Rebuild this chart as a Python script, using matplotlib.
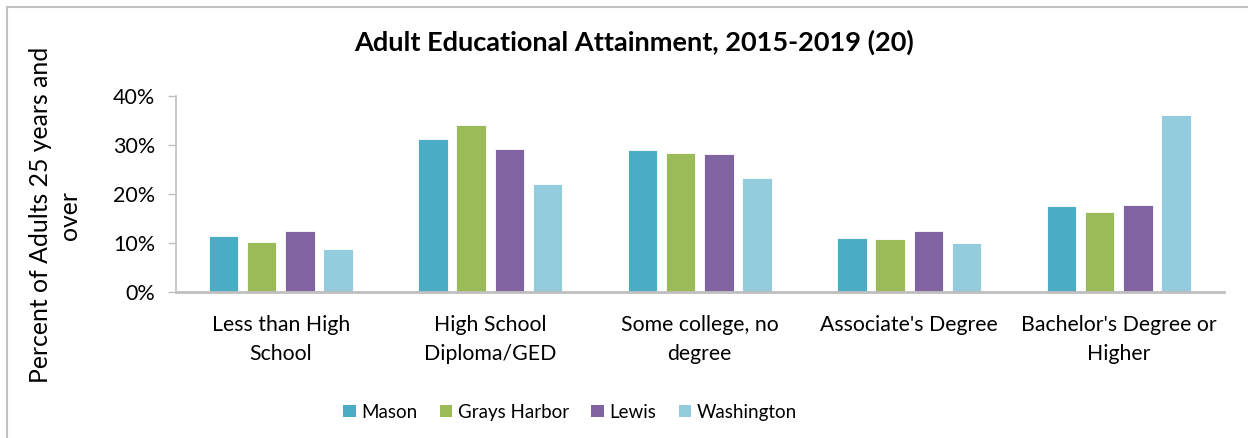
import numpy as np
import matplotlib
matplotlib.use("Agg")
import matplotlib.pyplot as plt
from matplotlib.patches import Rectangle, Patch

plt.rcParams["font.family"] = ["Lato", "DejaVu Sans"]

# Educational attainment shares (adults 25+), 2015-2019
categories = [
    "Less than High\nSchool",
    "High School\nDiploma/GED",
    "Some college, no\ndegree",
    "Associate's Degree",
    "Bachelor's Degree or\nHigher",
]
series_names = ["Mason", "Grays Harbor", "Lewis", "Washington"]
mason = [0.113, 0.311, 0.288, 0.109, 0.175]
grays_harbor = [0.102, 0.339, 0.282, 0.108, 0.163]
lewis = [0.124, 0.290, 0.281, 0.124, 0.176]
washington = [0.086, 0.219, 0.232, 0.099, 0.360]
y_ticks = [0.0, 0.1, 0.2, 0.3, 0.4]
y_tick_labels = ["0%", "10%", "20%", "30%", "40%"]

colors = ["#4BACC6", "#9BBB59", "#8064A2", "#93CDDD"]
values = [mason, grays_harbor, lewis, washington]

fig = plt.figure(figsize=(12.48, 4.39), dpi=100)
ax = fig.add_axes([176 / 1248, 1 - 292.5 / 439, 1047.5 / 1248, 196 / 439])

x = np.arange(len(categories))
step = 0.1814
width = 0.1408
for i, (name, vals, col) in enumerate(zip(series_names, values, colors)):
    ax.bar(x + (i - 1.5) * step, vals, width, color=col, label=name,
           edgecolor="white", linewidth=0.6, zorder=2)

ax.set_xlim(-0.5, len(categories) - 0.5)
ax.set_ylim(0, 0.40)
ax.set_yticks(y_ticks)
ax.set_yticklabels(y_tick_labels, fontsize=15.5)
ax.set_xticks(x)
ax.set_xticklabels(categories, fontsize=15.3, linespacing=1.55)
ax.tick_params(axis="x", length=0, pad=16)
ax.tick_params(axis="y", length=6, width=1, color="#bfbfbf", pad=9)

for side in ["top", "right"]:
    ax.spines[side].set_visible(False)
ax.spines["left"].set_color("#bfbfbf")
ax.spines["left"].set_linewidth(1.2)
ax.spines["bottom"].set_color("#bfbfbf")
ax.spines["bottom"].set_linewidth(2)

fig.text(634 / 1248, 1 - 42 / 439, "Adult Educational Attainment, 2015-2019 (20)",
         ha="center", va="center", fontsize=19.5, fontweight="bold")
fig.text(55 / 1248, 1 - 215 / 439, "Percent of Adults 25 years and\nover",
         ha="center", va="center", rotation=90, fontsize=17.8, linespacing=1.3)

handles = [Patch(facecolor=c, edgecolor="none") for c in colors]
fig.legend(handles, series_names, loc="center", ncol=4,
           bbox_to_anchor=(570 / 1248, 1 - 413 / 439), frameon=False,
           fontsize=13.5, handlelength=0.65, handleheight=0.65,
           handletextpad=0.3, columnspacing=1.2)

# chart area border
fig.patches.append(Rectangle((6.5 / 1248, -0.1), 1.2, 1 - 7.5 / 439 + 0.1,
                             transform=fig.transFigure, fill=False,
                             edgecolor="#c0c0c0", linewidth=1.5))

fig.savefig("out.png", dpi=100, facecolor="white")
